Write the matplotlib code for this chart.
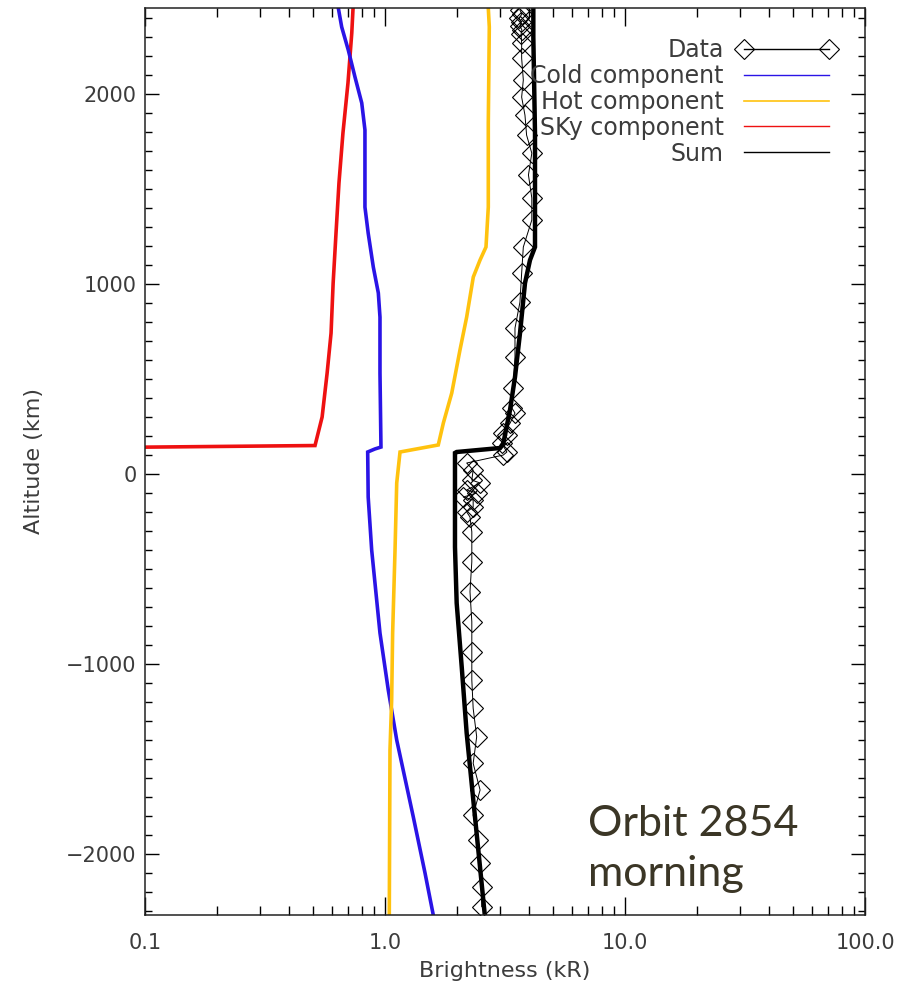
import numpy as np
import matplotlib
matplotlib.use("Agg")
import matplotlib.pyplot as plt
from matplotlib.lines import Line2D
from matplotlib.ticker import FixedLocator, LogLocator, MultipleLocator, NullFormatter


# altitude (km) / brightness (kR) profiles, one pair per curve
DATA_ALT = [2442, 2421, 2400, 2379, 2358, 2337, 2316, 2268, 2189, 2074,
            1984, 1889, 1784, 1689, 1574, 1453, 1337, 1195, 1058, 905,
            768, 616, 453, 347, 321, 268, 216, 205, 163, 116,
            100, 58, 21, -32, -47, -84, -100, -121, -137, -174,
            -200, -226, -304, -462, -619, -777, -935, -1084, -1233, -1383,
            -1523, -1663, -1795, -1926, -2049, -2172, -2277]
DATA_VAL = [3.65, 3.72, 3.62, 3.69, 3.65, 3.72, 3.69, 3.71, 3.71, 3.77,
            3.71, 3.83, 3.89, 4.09, 3.96, 4.09, 4.09, 3.77, 3.71, 3.65,
            3.48, 3.48, 3.42, 3.38, 3.48, 3.32, 3.10, 3.22, 3.06, 3.22,
            3.11, 2.19, 2.33, 2.30, 2.49, 2.19, 2.41, 2.12, 2.33, 2.33,
            2.19, 2.26, 2.30, 2.30, 2.26, 2.30, 2.30, 2.30, 2.33, 2.41,
            2.33, 2.49, 2.33, 2.44, 2.49, 2.53, 2.53]

COLD_ALT = [2453, 2353, 2232, 2089, 1953, 1811, 1405, 1268, 1089, 953, 826, 532,
            142, 132, 116, -121, -400, -837, -1137, -1400, -1805, -2100, -2321]
COLD_VAL = [0.639, 0.660, 0.703, 0.750, 0.800, 0.825, 0.825, 0.851, 0.894, 0.938, 0.953, 0.953,
            0.962, 0.908, 0.847, 0.851, 0.880, 0.953, 1.032, 1.119, 1.312, 1.468, 1.589]

HOT_ALT = [2453, 2353, 1847, 1405, 1195, 1126, 1037, 826, 653, 426, 268, 153,
           116, -47, -400, -837, -1189, -1453, -2321]
HOT_VAL = [2.694, 2.720, 2.694, 2.694, 2.635, 2.488, 2.333, 2.189, 2.053, 1.897, 1.750, 1.667,
           1.155, 1.119, 1.101, 1.076, 1.066, 1.049, 1.042]

SKY_ALT = [2453, 2321, 2058, 1795, 1532, 1268, 1005, 742, 532, 300, 150, 138]
SKY_VAL = [0.736, 0.727, 0.701, 0.668, 0.643, 0.625, 0.608, 0.596, 0.574, 0.547, 0.511, 0.05]

SUM_ALT = [2453, 2300, 1795, 1195, 1126, 1005, 742, 511, 337, 163, 137,
           116, 111, -384, -679, -1016, -1363, -1716, -2068, -2332]
SUM_VAL = [4.150, 4.150, 4.217, 4.217, 4.019, 3.831, 3.652, 3.481, 3.318, 3.113, 3.015,
           1.989, 1.957, 1.957, 1.989, 2.088, 2.189, 2.333, 2.488, 2.610]

X_TICKS = [0.1, 1.0, 10.0, 100.0]
X_TICK_LABELS = ["0.1", "1.0", "10.0", "100.0"]
Y_TICKS = [-2000, -1000, 0, 1000, 2000]

BLUE = "#2a14e6"
YELLOW = "#ffc20e"
RED = "#ee1111"
TEXT_GREY = "#3c3c3c"


def main():
    plt.rcParams["font.family"] = "DejaVu Sans"
    fig = plt.figure(figsize=(9.07, 9.99), dpi=100)
    ax = fig.add_axes([145 / 907, 84 / 999, 720 / 907, 907 / 999])

    ax.plot(SKY_VAL, SKY_ALT, color=RED, lw=2.6, solid_joinstyle="miter")
    ax.plot(COLD_VAL, COLD_ALT, color=BLUE, lw=2.6, solid_joinstyle="miter")
    ax.plot(HOT_VAL, HOT_ALT, color=YELLOW, lw=2.6, solid_joinstyle="miter")
    ax.plot(DATA_VAL, DATA_ALT, color="black", lw=0.7, marker="D", ms=10.5,
            mfc="none", mec="black", mew=0.8)
    ax.plot(SUM_VAL, SUM_ALT, color="black", lw=3.2, solid_joinstyle="miter")

    ax.set_xscale("log")
    ax.set_xlim(0.1, 100.0)
    ax.set_ylim(-2321, 2453)

    ax.xaxis.set_major_locator(FixedLocator(X_TICKS))
    ax.set_xticklabels(X_TICK_LABELS)
    ax.xaxis.set_minor_locator(LogLocator(base=10, subs=np.arange(2, 10)))
    ax.xaxis.set_minor_formatter(NullFormatter())
    ax.yaxis.set_major_locator(FixedLocator(Y_TICKS))
    ax.yaxis.set_minor_locator(MultipleLocator(100))

    ax.tick_params(axis="x", which="major", direction="in", length=13, width=1,
                   top=True, bottom=True, pad=13, labelsize=15, labelcolor=TEXT_GREY)
    ax.tick_params(axis="x", which="minor", direction="in", length=6.5, width=1,
                   top=True, bottom=True)
    ax.tick_params(axis="y", which="major", direction="in", length=10, width=1,
                   left=True, right=True, pad=6, labelsize=15, labelcolor=TEXT_GREY)
    ax.tick_params(axis="y", which="minor", direction="in", length=5, width=1,
                   left=True, right=True)
    for spine in ax.spines.values():
        spine.set_linewidth(1.1)
        spine.set_color("#222222")

    ax.set_xlabel("Brightness (kR)", fontsize=16, color=TEXT_GREY, labelpad=6)
    ax.set_ylabel("Altitude (km)", fontsize=16, color=TEXT_GREY, labelpad=16)

    handles = [
        Line2D([], [], color="black", lw=1, marker="D", ms=10, mfc="none", mew=0.8),
        Line2D([], [], color=BLUE, lw=1),
        Line2D([], [], color=YELLOW, lw=1.2),
        Line2D([], [], color=RED, lw=1),
        Line2D([], [], color="black", lw=1),
    ]
    labels = ["Data", "Cold component", "Hot component", "SKy component", "Sum"]
    leg = ax.legend(handles, labels, loc="upper right", markerfirst=False, numpoints=2,
                    frameon=False, fontsize=17, handlelength=4.2, handletextpad=0.55,
                    labelspacing=0.08, borderpad=0, borderaxespad=0,
                    bbox_to_anchor=((836 - 145) / 720, 1 - (38 - 8) / 907))
    for txt in leg.get_texts():
        txt.set_color(TEXT_GREY)

    note_font = dict(fontsize=31, family=["Lato", "DejaVu Sans"], color="#3b3626",
                     ha="left", va="baseline")
    fig.text(588 / 907, 1 - 836 / 999, "Orbit 2854", **note_font)
    fig.text(588 / 907, 1 - 886 / 999, "morning", **note_font)

    fig.savefig("out.png", dpi=100, facecolor="white")


if __name__ == "__main__":
    main()
